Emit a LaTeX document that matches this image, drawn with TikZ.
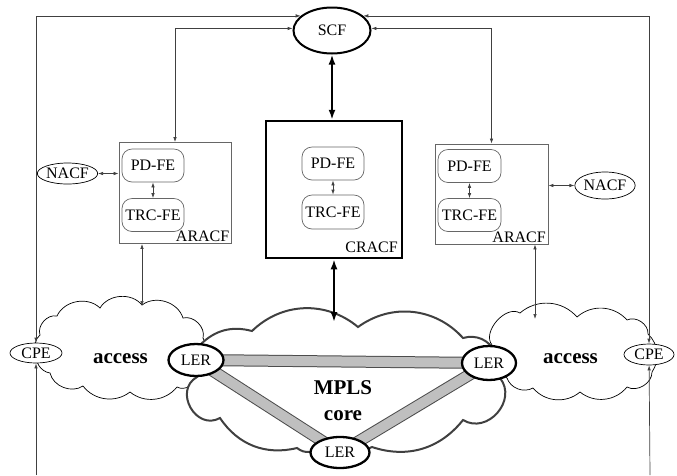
\documentclass[tikz,border=0pt]{standalone}
\usepackage{fontspec}
\setmainfont{Liberation Serif}
\usetikzlibrary{arrows.meta,shapes.geometric,backgrounds}
\begin{document}
\begin{tikzpicture}[x=1pt,y=-1pt,
  font=\fontsize{16}{19}\selectfont,
  >={Latex[length=5pt,width=3.5pt]},
  thinline/.style={line width=0.7pt, draw=black!75},
  ell/.style={ellipse, draw, inner sep=0pt, fill=white},
  fe/.style={rectangle, rounded corners=10pt, draw=black!60, line width=0.7pt, inner sep=0pt, minimum width=62pt, minimum height=33pt},
  racf/.style={rectangle, draw=black!60, line width=0.8pt, inner sep=0pt},
  lbl/.style={anchor=base east, inner sep=0pt},
  big/.style={font=\bfseries\fontsize{21}{26}\selectfont, anchor=base, inner sep=0pt},
  thickarr/.style={line width=2.5pt, {Latex[length=10pt,width=7pt]}-{Latex[length=10pt,width=7pt]}},
  ler/.style={ellipse, draw, line width=2.3pt, fill=white, inner sep=0pt},
  barout/.style={line width=12pt, draw=black!70},
  barin/.style={line width=10pt, draw=black!25},
  acccloud/.style={draw=black, line width=0.7pt, fill=white},
  mplscloud/.style={draw=black!75, line width=2pt, fill=white}
]
\useasboundingbox (0,0) rectangle (677,475);

% SCF
\node[ell, line width=2pt, minimum width=77pt, minimum height=46pt] (scf) at (332,30.5) {SCF};

% ARACF left
\node[racf, minimum width=112pt, minimum height=101pt] (araL) at (175,193) {};
\node[fe] (pdL) at (153,165.5) {PD-FE};
\node[fe] (trcL) at (153,215) {TRC-FE};
\node[lbl] (araLlbl) at (229.5,241.5) {ARACF};

% ARACF right
\node[racf, minimum width=113pt, minimum height=100pt] (araR) at (491.5,194) {};
\node[fe, minimum width=63pt] (pdR) at (469.5,166) {PD-FE};
\node[fe, minimum width=63pt] (trcR) at (469.5,215) {TRC-FE};
\node[lbl] (araRlbl) at (546,242) {ARACF};

% CRACF
\node[rectangle, draw, line width=2.5pt, minimum width=136pt, minimum height=137pt, inner sep=0pt] (cracf) at (334,189.5) {};
\node[fe] (pdC) at (333,163.5) {PD-FE};
\node[fe, minimum height=34pt] (trcC) at (333,212) {TRC-FE};
\node[lbl] (cracflbl) at (398,252) {CRACF};

% NACF
\node[ell, line width=0.7pt, minimum width=53pt, minimum height=21pt] (nacfL) at (67.5,173.5) {NACF};
\node[ell, line width=0.7pt, minimum width=58pt, minimum height=27pt] (nacfR) at (605,185.5) {NACF};

% CPE
\node[ell, line width=0.7pt, minimum width=52pt, minimum height=20pt] (cpeL) at (36,353) {CPE};
\node[ell, line width=0.7pt, minimum width=50pt, minimum height=21pt] (cpeR) at (649,354.5) {CPE};

% LER
\node[ler, minimum width=55pt, minimum height=32pt] (lerL) at (196,360) {LER};
\node[ler, minimum width=54pt, minimum height=34pt] (lerR) at (489,363) {LER};
\node[ler, minimum width=59pt, minimum height=31pt] (lerB) at (340,452.5) {LER};

% labels
\node[big] (accL) at (120.5,363) {access};
\node[big] (accR) at (570.5,363) {access};
\node[big] (mpls) at (343,394) {MPLS};
\node[big] (core) at (343,420) {core};

\begin{scope}[on background layer]
  % left access cloud
  \path[acccloud] (40,335) to[bend left=60] (57,316) to[bend left=55] (100,308)
    to[bend left=55] (142,305) to[bend left=55] (183,318) to[bend left=60] (203,338)
    to[bend left=40] (197,375) to[bend left=60] (177,387) to[bend left=45] (130,392)
    to[bend left=45] (83,386) to[bend left=55] (50,373) to[bend left=50] (37,352)
    to[bend left=40] (40,335) -- cycle;
  % right access cloud
  \path[acccloud] (492,345) to[bend left=80] (520,313) to[bend left=45] (577,317)
    to[bend left=45] (627,320) to[bend left=60] (648,334) to[bend left=40] (652,372)
    to[bend left=60] (627,387) to[bend left=45] (580,392) to[bend left=45] (533,388)
    to[bend left=50] (507,378) to[bend left=30] (492,345) -- cycle;
  % MPLS cloud
  \path[mplscloud] (200,345) to[bend left=30] (252,331) to[bend left=42] (358,327)
    to[bend left=42] (463,338) to[bend left=40] (495,352) to[bend left=30] (500,378)
    to[bend left=80, looseness=1.3] (463,420) to[bend left=35] (372,447)
    to[bend left=20] (310,452) to[bend left=20] (297,448) to[bend left=35] (220,418)
    to[bend left=90, looseness=1.5] (197,377) to[bend left=20] (200,345) -- cycle;
  % bars
  \draw[barout] (lerL.center) -- (lerR.center);
  \draw[barout] (lerL.center) -- (lerB.center);
  \draw[barout] (lerR.center) -- (lerB.center);
  \draw[barin] (lerL.center) -- (lerR.center);
  \draw[barin] (lerL.center) -- (lerB.center);
  \draw[barin] (lerR.center) -- (lerB.center);
\end{scope}

% coordinates
\coordinate (accLtop) at (142,306);
\coordinate (accRtop) at (535,319);
\coordinate (mplstop) at (334,322);
\coordinate (botL) at (36,475);
\coordinate (botR) at (650,475);

% connectors
\draw[thinline,<->] (cpeL) |- (scf.155);
\draw[thinline,<->] (cpeR) |- (scf.25);
\draw[thinline,->] (botL) -- (cpeL);
\draw[thinline,->] (botR) -- (cpeR);
\draw[thinline,<->] (scf.177) -| (araL.north);
\draw[thinline,<->] (scf.3) -| (araR.north);
\draw[thinline,<->] (nacfL) -- (nacfL -| araL.west);
\draw[thinline,<->] (nacfR -| araR.east) -- (nacfR);
\draw[thinline,<->] (pdL) -- (trcL);
\draw[thinline,<->] (pdR) -- (trcR);
\draw[thinline,<->] (pdC) -- (trcC);
\draw[thinline,<->] (accLtop |- araL.south) -- (accLtop);
\draw[thinline,<->] (accRtop |- araR.south) -- (accRtop);
\draw[thickarr] (scf.south) -- (scf.south |- cracf.north);
\draw[thickarr] (cracf.south) -- (mplstop);
\end{tikzpicture}
\end{document}
